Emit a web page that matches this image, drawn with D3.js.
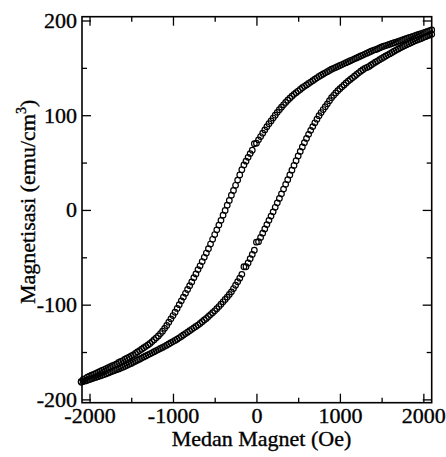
<!DOCTYPE html>
<html>
<head>
<meta charset="utf-8">
<script src="https://cdn.jsdelivr.net/npm/d3@7"></script>
<style>
  html, body { margin: 0; padding: 0; background: #fff; }
  svg { display: block; }
</style>
</head>
<body>
<svg id="chart" width="446" height="457"></svg>
<script>
// Applied field (Oe), sweep from +2100 to -2100
const fieldOe = [2100,
  2075,2050,2025,2000,1975,1950,1925,1900,
  1875,1850,1825,1800,1775,1750,1725,1700,
  1675,1650,1625,1600,1575,1550,1525,1500,
  1475,1450,1425,1400,1375,1350,1325,1300,
  1275,1250,1225,1200,1175,1150,1125,1100,
  1075,1050,1025,1000,975,950,925,900,
  875,850,825,800,775,750,725,700,
  675,650,625,600,575,550,525,500,
  475,450,425,400,375,350,325,300,
  275,250,225,200,175,150,125,100,
  75,50,25,0,-25,-50,-75,-100,
  -125,-150,-175,-200,-225,-250,-275,-300,
  -325,-350,-375,-400,-425,-450,-475,-500,
  -525,-550,-575,-600,-625,-650,-675,-700,
  -725,-750,-775,-800,-825,-850,-875,-900,
  -925,-950,-975,-1000,-1025,-1050,-1075,-1100,
  -1125,-1150,-1175,-1200,-1225,-1250,-1275,-1300,
  -1325,-1350,-1375,-1400,-1425,-1450,-1475,-1500,
  -1525,-1550,-1575,-1600,-1625,-1650,-1675,-1700,
  -1725,-1750,-1775,-1800,-1825,-1850,-1875,-1900,
  -1925,-1950,-1975,-2000,-2025,-2050,-2075,-2100];

// Magnetisation (emu/cm3) on the decreasing-field branch (upper curve)
const magDescending = [190,
  189.2,188.5,187.8,187,186.2,185.5,184.8,184,
  183.2,182.5,181.8,181,180.2,179.5,178.8,178,
  177.2,176.5,175.8,175,174.2,173.5,172.8,172,
  171,170,169.2,168.5,167.5,166.5,165.5,164.5,
  163.5,162.5,161.5,160.5,159.5,158.5,157.5,156.5,
  155.5,154.5,153.5,152.5,151.5,150.5,149.5,148.5,
  147.2,146,144.8,143.5,142.2,141,139.5,138,
  136.5,135,133.5,132,130.5,129,127.2,125.5,
  123.8,122,120,118,115.8,113.5,111,108.5,
  105.8,103,100,97,94,91,87.8,84.5,
  81,77.5,74,70.5,70,63,59.5,55.5,
  51.5,47.5,42.5,37,31.5,26,20.5,15.5,
  10,5,-0.5,-5.5,-11,-16,-21,-26,
  -31,-36,-41,-45.5,-50,-54.5,-59,-63,
  -67.5,-71.5,-76,-80,-84,-88,-92,-96,
  -100,-104,-108,-111.5,-115,-118.5,-122,-125,
  -128,-130.5,-133,-135,-137,-139,-141,-142.5,
  -144,-145.5,-147,-148.5,-150,-151.5,-153,-154,
  -155.5,-156.5,-157.5,-159,-160,-161,-162.5,-163.5,
  -164.5,-165.5,-166.5,-167.5,-168.5,-169.5,-170.5,-171.5,
  -172.5,-173.5,-174.5,-175.5,-176.5,-178,-179,-181];

// Magnetisation (emu/cm3) on the increasing-field branch (lower curve), same field order
const magAscending = [185.5,
  184.6,183.8,182.9,182,181,180.2,179.3,178.5,
  177.5,176.5,175.5,174.5,173.4,172.2,171.1,170,
  168.8,167.5,166.2,165,163.7,162.5,161.2,160,
  158.6,157.2,155.9,154.5,153,151.5,150.5,149.5,
  148,146.5,144.8,143,141.2,139.5,137.8,136,
  134,132,130,128,125.8,123.5,121,118.5,
  115.3,112,109,106,102.8,99.5,95.8,92,
  88,84,79.8,75.5,71,66.5,61.8,57,
  52,47,42,37,32,27,22,17,
  12.2,7.5,2.8,-2,-6.5,-11,-15.5,-20,
  -24.5,-29,-33.5,-34,-42.5,-47,-51.5,-56,
  -60,-60,-68,-72,-75.8,-79.5,-83,-86.5,
  -89.2,-92,-94.5,-97,-99.5,-102,-104.2,-106.5,
  -108.5,-110.5,-112.5,-114.5,-116.2,-118,-119.8,-121.5,
  -123,-124.5,-126,-127.5,-129,-130.5,-132,-133.5,
  -135,-136.5,-137.8,-139,-140.2,-141.5,-142.8,-144,
  -145.1,-146.2,-147.4,-148.5,-149.6,-150.8,-151.9,-153,
  -154.1,-155.2,-156.4,-157.5,-158.6,-159.8,-160.9,-162,
  -163,-164,-165,-166,-166.9,-167.8,-168.6,-169.5,
  -170.4,-171.2,-172.1,-173,-173.8,-174.5,-175.2,-176,
  -176.8,-177.5,-178.2,-179,-179.8,-180.5,-181.2,-182];

const xMajorTicks = [-2000, -1000, 0, 1000, 2000];
const xMinorTicks = [-1500, -500, 500, 1500];
const yMajorTicks = [-200, -100, 0, 100, 200];
const yMinorTicks = [-150, -50, 50, 150];
const xTitle = "Medan Magnet (Oe)";
const yTitleMain = "Magnetisasi (emu/cm";
const yTitleSup = "3";
const yTitleEnd = ")";

const W = 446, H = 457;
const margin = {left: 82, right: 14.3, top: 16.7, bottom: 54.3};
const iw = W - margin.left - margin.right;
const ih = H - margin.top - margin.bottom;
const FONT = "Liberation Serif, DejaVu Serif, serif";
const TEXT_STROKE = 0.35;

const svg = d3.select("#chart").attr("font-family", FONT);
const g = svg.append("g").attr("transform", `translate(${margin.left},${margin.top})`);

const x = d3.scaleLinear().domain([-2090, 2100]).range([0, iw]);
const y = d3.scaleLinear().domain([-203.5, 204]).range([ih, 0]);

const MAJ = 9, MIN = 5;
const fmt = d => d3.format("d")(d).replace("\u2212", "-");

function styleAxis(sel, showLabels) {
  sel.select(".domain").remove();
  sel.attr("font-family", FONT);
  sel.selectAll("line").attr("stroke", "#000").attr("stroke-width", 1.3);
  sel.selectAll("text").attr("font-family", FONT).attr("font-size", 22).attr("fill", "#000")
    .attr("stroke", "#000").attr("stroke-width", TEXT_STROKE);
  if (!showLabels) sel.selectAll("text").remove();
}

// bottom
g.append("g").attr("transform", `translate(0,${ih})`)
  .call(d3.axisBottom(x).tickValues(xMajorTicks).tickSizeInner(-MAJ).tickSizeOuter(0).tickPadding(5).tickFormat(fmt))
  .call(s => styleAxis(s, true));
g.append("g").attr("transform", `translate(0,${ih})`)
  .call(d3.axisBottom(x).tickValues(xMinorTicks).tickSizeInner(-MIN).tickSizeOuter(0).tickFormat(""))
  .call(s => styleAxis(s, false));
// top
g.append("g")
  .call(d3.axisTop(x).tickValues(xMajorTicks).tickSizeInner(-MAJ).tickSizeOuter(0).tickFormat(""))
  .call(s => styleAxis(s, false));
g.append("g")
  .call(d3.axisTop(x).tickValues(xMinorTicks).tickSizeInner(-MIN).tickSizeOuter(0).tickFormat(""))
  .call(s => styleAxis(s, false));
// left
g.append("g")
  .call(d3.axisLeft(y).tickValues(yMajorTicks).tickSizeInner(-MAJ).tickSizeOuter(0).tickPadding(5).tickFormat(fmt))
  .call(s => styleAxis(s, true));
g.append("g")
  .call(d3.axisLeft(y).tickValues(yMinorTicks).tickSizeInner(-MIN).tickSizeOuter(0).tickFormat(""))
  .call(s => styleAxis(s, false));
// right
g.append("g").attr("transform", `translate(${iw},0)`)
  .call(d3.axisRight(y).tickValues(yMajorTicks).tickSizeInner(-MAJ).tickSizeOuter(0).tickFormat(""))
  .call(s => styleAxis(s, false));
g.append("g").attr("transform", `translate(${iw},0)`)
  .call(d3.axisRight(y).tickValues(yMinorTicks).tickSizeInner(-MIN).tickSizeOuter(0).tickFormat(""))
  .call(s => styleAxis(s, false));

// frame
g.append("rect").attr("x", 0).attr("y", 0).attr("width", iw).attr("height", ih)
  .attr("fill", "none").attr("stroke", "#000").attr("stroke-width", 1.6);

// data markers
const branches = [magDescending, magAscending];
branches.forEach(arr => {
  g.append("g").selectAll("circle")
    .data(fieldOe.map((h, i) => ({h, m: arr[i]})))
    .join("circle")
    .attr("cx", d => x(d.h))
    .attr("cy", d => y(d.m))
    .attr("r", 2.8)
    .attr("fill", "none")
    .attr("stroke", "#000")
    .attr("stroke-width", 1.2);
});

// axis titles
svg.append("text")
  .attr("x", margin.left + x(0) + 5).attr("y", 446)
  .attr("text-anchor", "middle")
  .attr("font-family", FONT)
  .attr("font-size", 22).attr("fill", "#000")
  .attr("stroke", "#000").attr("stroke-width", TEXT_STROKE)
  .text(xTitle);

const yt = svg.append("text")
  .attr("transform", `translate(35,${margin.top + y(0) - 8}) rotate(-90)`)
  .attr("text-anchor", "middle")
  .attr("font-family", FONT)
  .attr("font-size", 22).attr("fill", "#000")
  .attr("stroke", "#000").attr("stroke-width", TEXT_STROKE);
yt.append("tspan").text(yTitleMain);
yt.append("tspan").attr("dy", -9).attr("font-size", 14).text(yTitleSup);
yt.append("tspan").attr("dy", 9).text(yTitleEnd);
</script>
</body>
</html>
